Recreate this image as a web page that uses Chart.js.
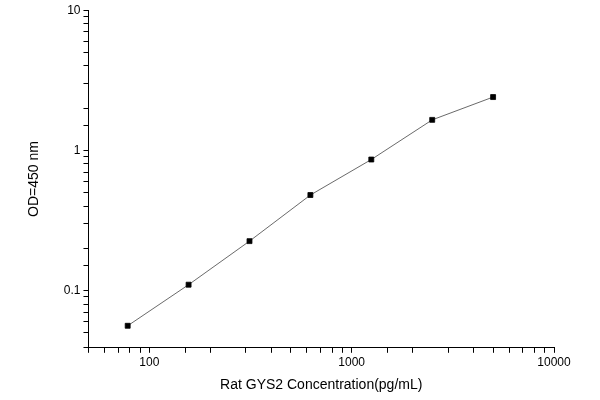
<!DOCTYPE html>
<html>
<head>
<meta charset="utf-8">
<script src="https://cdn.jsdelivr.net/npm/chart.js@4/dist/chart.umd.min.js"></script>
<style>
  html, body { margin: 0; padding: 0; background: #fff; }
  #wrap { width: 600px; height: 400px; }
</style>
</head>
<body>
<div id="wrap"><canvas id="c"></canvas></div>
<script>
// standard curve values
const concentrations = [78.125, 156.25, 312.5, 625, 1250, 2500, 5000];
const odValues = [0.056, 0.110, 0.225, 0.48, 0.86, 1.65, 2.40];
const xLabels = [100, 1000, 10000];
const yLabels = [0.1, 1, 10];

const ctx = document.getElementById('c').getContext('2d');
new Chart(ctx, {
    type: 'line',
    data: {
        datasets: [{
            data: concentrations.map((x, i) => ({ x: x, y: odValues[i] })),
            borderColor: '#444',
            borderWidth: 0.8,
            pointStyle: 'rect',
            pointRadius: 3.5,
            pointBackgroundColor: '#000',
            pointBorderColor: '#000',
            tension: 0
        }]
    },
    options: {
        responsive: true,
        maintainAspectRatio: false,
        animation: false,
        layout: { padding: { top: 7, right: 46, bottom: 2, left: 26 } },
        plugins: { legend: { display: false }, tooltip: { enabled: false } },
        scales: {
            x: {
                type: 'logarithmic',
                min: 50,
                max: 10000,
                border: { color: '#000', width: 1 },
                grid: { drawOnChartArea: false, color: '#000', tickLength: 5 },
                ticks: {
                    color: '#000',
                    font: { family: 'Arial, Liberation Sans', size: 12 },
                    maxRotation: 0,
                    autoSkip: false,
                    callback: v => xLabels.includes(v) ? String(v) : ''
                },
                title: {
                    display: true,
                    text: 'Rat GYS2 Concentration(pg/mL)',
                    color: '#000',
                    font: { family: 'Arial, Liberation Sans', size: 14 }
                }
            },
            y: {
                type: 'logarithmic',
                min: 0.039,
                max: 10,
                border: { color: '#000', width: 1 },
                grid: { drawOnChartArea: false, color: '#000', tickLength: 5 },
                ticks: {
                    color: '#000',
                    font: { family: 'Arial, Liberation Sans', size: 12 },
                    autoSkip: false,
                    callback: v => yLabels.includes(v) ? String(v) : ''
                },
                title: {
                    display: true,
                    text: 'OD=450 nm',
                    color: '#000',
                    padding: { top: 0, bottom: 18 },
                    font: { family: 'Arial, Liberation Sans', size: 14 }
                }
            }
        }
    }
});
</script>
</body>
</html>
